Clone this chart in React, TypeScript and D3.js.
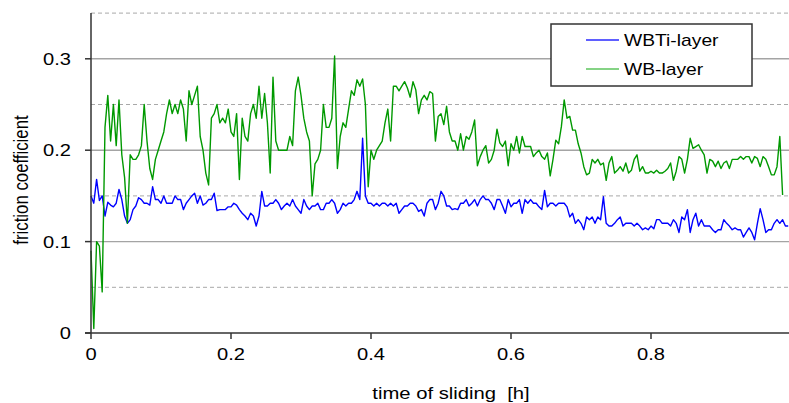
import React from "react";
import * as d3 from "d3";

const SAMPLE_STEP = 0.004; // h between samples

const wbtiLayer: number[] = [
  0.15, 0.142, 0.168, 0.145, 0.15, 0.128, 0.143, 0.14, 0.138, 0.142,
  0.157, 0.146, 0.128, 0.12, 0.124, 0.135, 0.139, 0.148, 0.146, 0.142,
  0.142, 0.14, 0.16, 0.146, 0.146, 0.142, 0.15, 0.142, 0.142, 0.142,
  0.15, 0.146, 0.146, 0.135, 0.142, 0.146, 0.15, 0.153, 0.142, 0.15,
  0.14, 0.142, 0.146, 0.146, 0.153, 0.134, 0.135, 0.135, 0.135, 0.138,
  0.138, 0.142, 0.14, 0.135, 0.131, 0.128, 0.124, 0.131, 0.128, 0.117,
  0.128, 0.155, 0.139, 0.139, 0.142, 0.142, 0.146, 0.142, 0.135, 0.139,
  0.142, 0.139, 0.146, 0.139, 0.135, 0.131, 0.146, 0.139, 0.135, 0.139,
  0.139, 0.142, 0.135, 0.135, 0.142, 0.142, 0.146, 0.142, 0.131, 0.135,
  0.142, 0.139, 0.142, 0.142, 0.146, 0.155, 0.146, 0.213, 0.15, 0.142,
  0.142, 0.139, 0.142, 0.139, 0.142, 0.142, 0.139, 0.142, 0.139, 0.142,
  0.131, 0.135, 0.139, 0.139, 0.142, 0.142, 0.139, 0.133, 0.135, 0.128,
  0.142, 0.146, 0.146, 0.135, 0.142, 0.155, 0.15, 0.139, 0.139, 0.135,
  0.136, 0.135, 0.142, 0.142, 0.146, 0.139, 0.142, 0.146, 0.139, 0.146,
  0.15, 0.146, 0.146, 0.142, 0.135, 0.146, 0.146, 0.139, 0.131, 0.146,
  0.138, 0.142, 0.142, 0.146, 0.131, 0.146, 0.142, 0.146, 0.142, 0.142,
  0.138, 0.135, 0.156, 0.138, 0.142, 0.142, 0.139, 0.142, 0.142, 0.142,
  0.138, 0.127, 0.131, 0.12, 0.124, 0.12, 0.113, 0.127, 0.124, 0.127,
  0.12, 0.127, 0.124, 0.149, 0.12, 0.117, 0.117, 0.12, 0.124, 0.127,
  0.117, 0.12, 0.12, 0.12, 0.117, 0.12, 0.117, 0.113, 0.115, 0.113,
  0.117, 0.114, 0.124, 0.124, 0.12, 0.12, 0.12, 0.117, 0.124, 0.12,
  0.11, 0.127, 0.124, 0.135, 0.11, 0.124, 0.131, 0.117, 0.124, 0.117,
  0.117, 0.117, 0.113, 0.11, 0.113, 0.113, 0.124, 0.12, 0.117, 0.113,
  0.115, 0.113, 0.113, 0.105, 0.11, 0.115, 0.11, 0.102, 0.12, 0.136,
  0.124, 0.11, 0.113, 0.113, 0.12, 0.124, 0.12, 0.124, 0.117, 0.117,
];

const wbLayer: number[] = [
  0.09, 0.005, 0.1, 0.095, 0.045, 0.225, 0.26, 0.21, 0.25, 0.205,
  0.255, 0.195, 0.17, 0.12, 0.195, 0.19, 0.19, 0.195, 0.205, 0.25,
  0.21, 0.18, 0.168, 0.19, 0.2, 0.21, 0.22, 0.24, 0.255, 0.24,
  0.25, 0.24, 0.255, 0.245, 0.21, 0.265, 0.25, 0.26, 0.27, 0.215,
  0.2, 0.175, 0.162, 0.235, 0.24, 0.25, 0.23, 0.235, 0.23, 0.245,
  0.22, 0.215, 0.24, 0.168, 0.235, 0.215, 0.21, 0.24, 0.25, 0.235,
  0.27, 0.235, 0.262, 0.23, 0.175, 0.28, 0.21, 0.2, 0.2, 0.2,
  0.2, 0.215, 0.205, 0.265, 0.28, 0.26, 0.235, 0.22, 0.21, 0.15,
  0.185, 0.19, 0.2, 0.25, 0.225, 0.225, 0.235, 0.303, 0.18, 0.215,
  0.23, 0.225, 0.245, 0.265, 0.26, 0.277, 0.27, 0.278, 0.25, 0.16,
  0.2, 0.19, 0.2, 0.205, 0.21, 0.23, 0.245, 0.21, 0.27, 0.27,
  0.265, 0.27, 0.275, 0.268, 0.258, 0.275, 0.266, 0.24, 0.255, 0.26,
  0.255, 0.264, 0.262, 0.21, 0.237, 0.24, 0.228, 0.248, 0.22, 0.21,
  0.21, 0.2, 0.218, 0.2, 0.215, 0.212, 0.22, 0.233, 0.183, 0.193,
  0.2, 0.205, 0.186, 0.19, 0.2, 0.223, 0.208, 0.204, 0.21, 0.183,
  0.207, 0.2, 0.215, 0.197, 0.215, 0.204, 0.204, 0.204, 0.193, 0.197,
  0.2, 0.193, 0.19, 0.197, 0.172, 0.19, 0.211, 0.207, 0.226, 0.255,
  0.235, 0.237, 0.222, 0.222, 0.207, 0.197, 0.182, 0.173, 0.175, 0.19,
  0.186, 0.19, 0.184, 0.186, 0.167, 0.186, 0.193, 0.175, 0.178, 0.182,
  0.177, 0.186, 0.175, 0.178, 0.19, 0.195, 0.177, 0.182, 0.175, 0.175,
  0.177, 0.175, 0.178, 0.175, 0.175, 0.177, 0.18, 0.186, 0.167, 0.177,
  0.193, 0.19, 0.175, 0.19, 0.213, 0.202, 0.204, 0.206, 0.2, 0.195,
  0.175, 0.19, 0.188, 0.182, 0.188, 0.18, 0.186, 0.188, 0.18, 0.19,
  0.19, 0.19, 0.193, 0.19, 0.193, 0.193, 0.186, 0.193, 0.191, 0.182,
  0.193, 0.19, 0.182, 0.173, 0.173, 0.182, 0.215, 0.151,
];

const seriesNames = ["WBTi-layer", "WB-layer"];
const seriesColors = ["#0000ff", "#009900"];
const legendColors = ["#2a2aff", "#5cc45c"];

const xTicks = [0, 0.2, 0.4, 0.6, 0.8];
const xTickLabels = ["0", "0.2", "0.4", "0.6", "0.8"];
const yTicks = [0, 0.1, 0.2, 0.3];
const yTickLabels = ["0", "0.1", "0.2", "0.3"];
const yMinorGrid = [0.05, 0.15, 0.25, 0.35];
const yMajorGrid = [0.1, 0.2, 0.3];

const xTitle = "time of sliding\u00a0\u00a0[h]";
const yTitle = "friction coefficient";

const W = 789;
const H = 403;
const FONT = "'Liberation Sans', Arial, Helvetica, sans-serif";
const SX = 1.22; // horizontal stretch of the original rendering

export default function App() {
  const x = d3.scaleLinear().domain([0, 1]).range([91, 791]);
  const y = d3.scaleLinear().domain([0, 0.35]).range([333, 333 - 0.35 * 914]);

  const line = d3
    .line<number>()
    .x((_, i) => x(i * SAMPLE_STEP))
    .y((d) => y(d));

  const series = [wbtiLayer, wbLayer];
  const x0 = x(0);
  const xr = W;

  return (
    <svg
      width={W}
      height={H}
      style={{ position: "absolute", left: 0, top: 0, background: "#fff" }}
      fontFamily={FONT}
    >
      <rect x={0} y={0} width={W} height={H} fill="#fff" />
      {yMinorGrid.map((v) => (
        <line
          key={"m" + v}
          x1={x0}
          x2={xr}
          y1={y(v)}
          y2={y(v)}
          stroke="#a8a8a8"
          strokeWidth={1}
          strokeDasharray="4,3"
        />
      ))}
      {yMajorGrid.map((v) => (
        <line
          key={"g" + v}
          x1={x0}
          x2={xr}
          y1={y(v)}
          y2={y(v)}
          stroke="#a4a4a4"
          strokeWidth={1.4}
        />
      ))}
      {series.map((s, i) => (
        <path
          key={seriesNames[i]}
          d={line(s) || ""}
          fill="none"
          stroke={seriesColors[i]}
          strokeWidth={1.4}
          strokeLinejoin="round"
        />
      ))}
      {/* axes */}
      <line x1={x0} x2={x0} y1={y(0.35)} y2={y(0)} stroke="#333" strokeWidth={1.5} />
      <line x1={x0 - 6} x2={xr} y1={y(0)} y2={y(0)} stroke="#333" strokeWidth={1.5} />
      {yTicks.map((v, i) => (
        <g key={"yt" + v}>
          <line x1={x0 - 6} x2={x0} y1={y(v)} y2={y(v)} stroke="#333" strokeWidth={1.5} />
          <text
            transform={`translate(${x0 - 20},${y(v) + 6}) scale(${SX},1)`}
            textAnchor="end"
            fontSize={16.5}
            fill="#000"
          >
            {yTickLabels[i]}
          </text>
        </g>
      ))}
      {xTicks.map((v, i) => (
        <g key={"xt" + v}>
          <line x1={x(v)} x2={x(v)} y1={y(0)} y2={y(0) + 6} stroke="#333" strokeWidth={1.5} />
          <text
            transform={`translate(${x(v)},${y(0) + 27}) scale(${SX},1)`}
            textAnchor="middle"
            fontSize={16.5}
            fill="#000"
          >
            {xTickLabels[i]}
          </text>
        </g>
      ))}
      <text
        transform={`translate(451,399) scale(${SX},1)`}
        textAnchor="middle"
        fontSize={16.6}
        fill="#000"
      >
        {xTitle}
      </text>
      <text
        transform={`translate(28,180) scale(${SX},1) rotate(-90)`}
        textAnchor="middle"
        fontSize={16.8}
        fill="#000"
      >
        {yTitle}
      </text>
      {/* legend */}
      <rect x={551} y={24} width={201} height={62} fill="#fff" stroke="#333" strokeWidth={1.5} />
      {seriesNames.map((n, i) => (
        <g key={"lg" + n}>
          <line
            x1={586}
            x2={619}
            y1={40 + i * 29}
            y2={40 + i * 29}
            stroke={legendColors[i]}
            strokeWidth={1.5}
          />
          <text
            transform={`translate(624,${45.5 + i * 29}) scale(${SX},1)`}
            fontSize={15.8}
            fill="#000"
          >
            {n}
          </text>
        </g>
      ))}
    </svg>
  );
}
